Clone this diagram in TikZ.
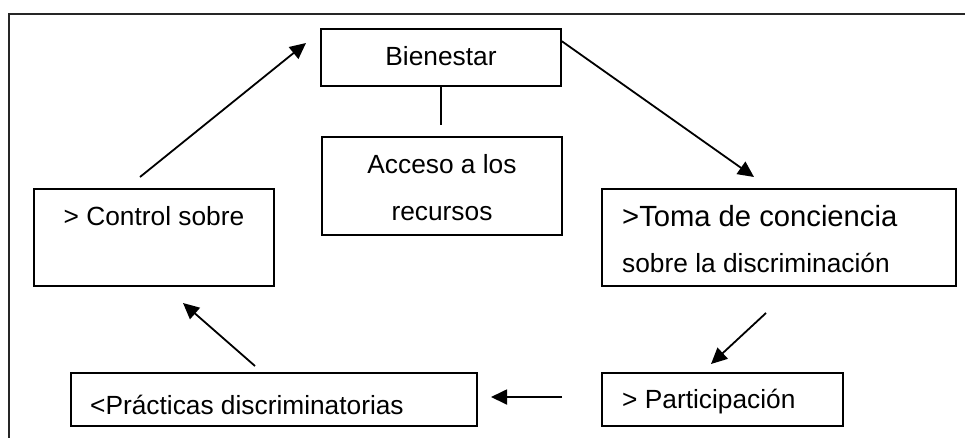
\documentclass[tikz,border=0pt]{standalone}
\usepackage{fontspec}
\setmainfont{Liberation Sans}
\usetikzlibrary{arrows.meta}
\begin{document}
\begin{tikzpicture}[x=1pt,y=-1pt,
  box/.style={draw, line width=1.6pt, inner sep=0pt},
  txt/.style={inner sep=0pt, font=\fontsize{26.3pt}{30pt}\selectfont},
  bigtxt/.style={inner sep=0pt, font=\fontsize{29.2pt}{33pt}\selectfont},
  arr/.style={line width=1.8pt, -{Triangle[length=16pt,width=15pt]}},
  frame/.style={line width=1.6pt, draw=black!85}]
\useasboundingbox (0,0) rectangle (965,437);
\fill[white] (0,0) rectangle (965,437);
% outer frame (cut at right and bottom)
\draw[frame] (9,440) -- (9,14) -- (970,14);
% boxes
\node[box, minimum width=240pt, minimum height=57pt] (bien) at (441,57.5) {};
\node[box, minimum width=240pt, minimum height=98pt] (acc) at (442,186) {};
\node[box, minimum width=240pt, minimum height=97pt] (ctrl) at (154,237.5) {};
\node[box, minimum width=354pt, minimum height=97pt] (toma) at (779,237.5) {};
\node[box, minimum width=406pt, minimum height=53pt] (prac) at (274,399.5) {};
\node[box, minimum width=241pt, minimum height=53pt] (part) at (722.5,399.5) {};
% texts
\node[txt, anchor=base] (tbien) at (441,65) {Bienestar};
\node[txt, anchor=base] (tacc1) at (442,173) {Acceso a los};
\node[txt, anchor=base] (tacc2) at (442,220) {recursos};
\node[txt, anchor=base] (tctrl) at (154,225) {> Control sobre};
\node[bigtxt, anchor=base west] (ttoma1) at (622,226) {>Toma de conciencia};
\node[txt, anchor=base west] (ttoma2) at (622,272) {sobre la discriminación};
\node[txt, anchor=base west] (tpart) at (622,408) {> Participación};
\node[txt, anchor=base west] (tprac) at (90,414) {<Prácticas discriminatorias};
% connector ends
\coordinate (c1s) at (140,177);
\coordinate (c1e) at (306,43);
\coordinate (c2e) at (754,177);
\coordinate (c3s) at (766,313);
\coordinate (c3e) at (711,364);
\coordinate (c4s) at (562,397);
\coordinate (c4e) at (491,397);
\coordinate (c5s) at (255,366);
\coordinate (c5e) at (183,303);
\coordinate (vend) at (441,125);
% connectors
\draw[line width=1.6pt] (bien.south) -- (vend);
\draw[arr] (c1s) -- (c1e);
\draw[arr] (bien.north east) ++(0,13) coordinate (c2s) -- (c2e);
\draw[arr] (c3s) -- (c3e);
\draw[arr] (c4s) -- (c4e);
\draw[arr] (c5s) -- (c5e);
\end{tikzpicture}
\end{document}
